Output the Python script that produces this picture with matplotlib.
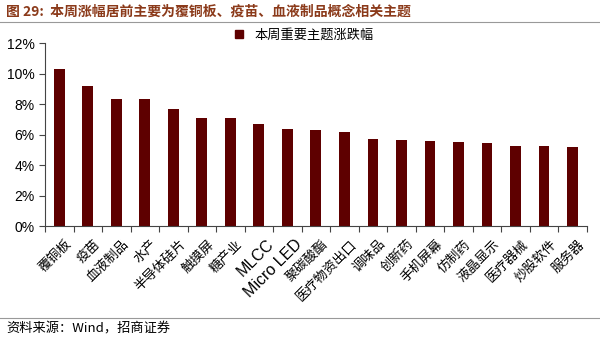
import numpy as np
import matplotlib.pyplot as plt
from matplotlib.lines import Line2D

plt.rcParams['font.family'] = ['Noto Sans CJK SC', 'DejaVu Sans']

temas = ["覆铜板", "疫苗", "血液制品", "水产", "半导体硅片", "触摸屏", "糖产业",
         "MLCC", "Micro LED", "聚碳酸酯", "医疗物资出口", "调味品", "创新药",
         "手机屏幕", "仿制药", "液晶显示", "医疗器械", "炒股软件", "服务器"]
subida = [10.3, 9.2, 8.3, 8.3, 7.67, 7.08, 7.06, 6.68, 6.37, 6.33, 6.2, 5.7,
          5.66, 5.58, 5.52, 5.42, 5.25, 5.22, 5.21]

rojo = "#5e0000"
fig = plt.figure(figsize=(6, 3.39), dpi=100)
ax = fig.add_axes([0.075, 0.333, 0.903, 0.54])

x = np.arange(len(temas))
ax.bar(x, subida, width=0.38, color=rojo)
ax.set_xlim(-0.5, len(temas) - 0.5)
ax.set_ylim(0, 12)
ax.set_yticks(np.arange(0, 13, 2))
ax.set_yticklabels(["%d%%" % v for v in range(0, 13, 2)],
                   fontsize=10, family=["Liberation Sans", "DejaVu Sans"])
ax.set_xticks(np.append(x - 0.5, len(temas) - 0.5))
ax.set_xticklabels([])
ax.tick_params(axis="x", direction="out", length=4, color="#444444")
ax.tick_params(axis="y", direction="out", length=4, color="#444444")
for s in ["top", "right"]:
    ax.spines[s].set_visible(False)
ax.spines["left"].set_color("#444444")
ax.spines["bottom"].set_color("#444444")

# etiquetas rotadas
for i, t in enumerate(temas):
    if t in ("MLCC", "Micro LED"):
        ax.text(i + 0.25, -0.7, t, rotation=45, ha="right", va="top",
                fontsize=11.5, family=["Liberation Sans", "DejaVu Sans"],
                rotation_mode="anchor")
    else:
        ax.text(i + 0.2, -0.75, t, rotation=45, ha="right", va="top",
                fontsize=9.5, rotation_mode="anchor")

handles = [Line2D([], [], marker="s", linestyle="none", color=rojo, markersize=6)]
fig.legend(handles, ["本周重要主题涨跌幅"], loc="center", bbox_to_anchor=(0.5, 0.897),
           frameon=False, fontsize=9.5, handletextpad=0.2, borderpad=0)

fig.text(0.01, 0.965, "图 29:  本周涨幅居前主要为覆铜板、疫苗、血液制品概念相关主题",
         color="#8b3a1a", fontsize=10, fontweight="bold", va="center", ha="left")
fig.add_artist(Line2D([0.0, 1.0], [0.935, 0.935], color="#999999", lw=0.8))
fig.add_artist(Line2D([0.0, 1.0], [0.062, 0.062], color="#999999", lw=0.8))
fig.text(0.01, 0.03, "资料来源：Wind，招商证券", fontsize=9.5, va="center", ha="left")

fig.savefig("out.png", dpi=100)
